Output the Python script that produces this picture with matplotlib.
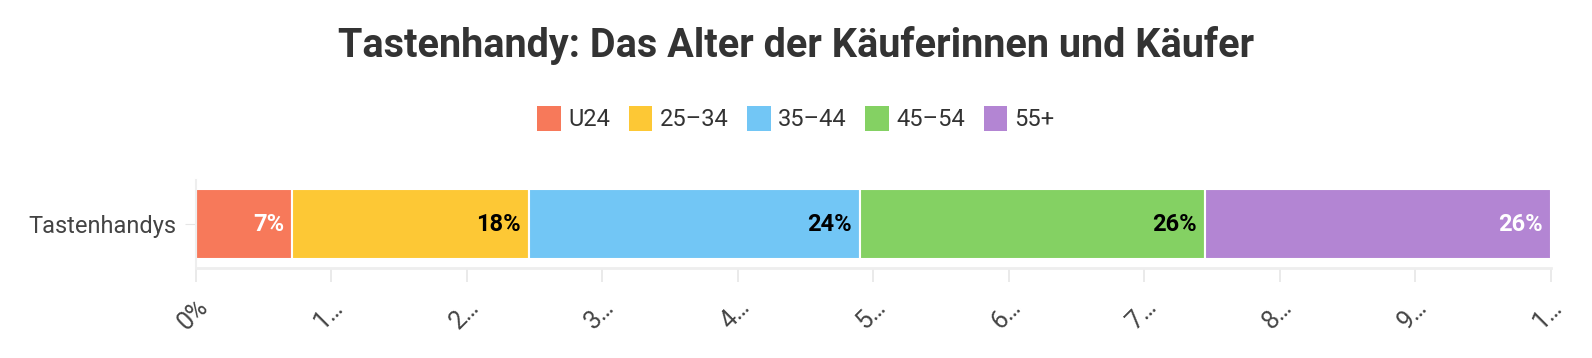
import matplotlib.pyplot as plt
from matplotlib.patches import Patch

plt.rcParams['font.family'] = ['Roboto', 'DejaVu Sans']

categories = ['Tastenhandys']
groups = ['U24', '25–34', '35–44', '45–54', '55+']
values = [7.1, 17.5, 24.4, 25.5, 25.5]
colors = ['#f7795a', '#fdc835', '#72c6f5', '#84d163', '#b385d3']
label_colors = ['white', 'black', 'black', 'black', 'white']
tick_labels = ['0%', '1…', '2…', '3…', '4…', '5…', '6…', '7…', '8…', '9…', '1…']

fig = plt.figure(figsize=(15.92, 3.58), dpi=100)
ax = fig.add_axes([0.123, 0.251, 0.851, 0.246])

left = 0
for val, col, lc in zip(values, colors, label_colors):
    ax.barh(categories, val, left=left, height=0.8, color=col,
            edgecolor='white', linewidth=1.5)
    ax.text(left + val - 0.6, 0, f'{val:.0f}%', ha='right', va='center',
            fontsize=17, fontweight='bold', color=lc)
    left += val

ax.set_xlim(0, 100)
ax.set_ylim(-0.5, 0.5)
ax.set_xticks(range(0, 101, 10))
ax.set_xticklabels(tick_labels, rotation=45, ha='right', rotation_mode='anchor',
                   fontsize=18, color='#444444')
ax.tick_params(axis='x', length=10, color='#e6e6e6', width=1.2, pad=9)
ax.tick_params(axis='y', length=8, color='#e6e6e6', labelsize=17,
               labelcolor='#444444', pad=6)
for s in ['top', 'right']:
    ax.spines[s].set_visible(False)
ax.spines['bottom'].set_color('#eeeeee')
ax.spines['bottom'].set_linewidth(2)
ax.spines['left'].set_color('#eeeeee')
ax.spines['left'].set_linewidth(1.5)

fig.text(0.5, 0.872, 'Tastenhandy: Das Alter der Käuferinnen und Käufer',
         ha='center', va='center', fontsize=28.5, fontweight='bold', color='#333333')

handles = [Patch(facecolor=c, edgecolor='none') for c in colors]
fig.legend(handles, groups, loc='center', bbox_to_anchor=(0.5, 0.668), ncol=5,
           frameon=False, fontsize=17, handlelength=1.0, handleheight=1.2,
           handletextpad=0.3, columnspacing=0.8, labelcolor='#333333')

fig.savefig('out.png', dpi=100)
